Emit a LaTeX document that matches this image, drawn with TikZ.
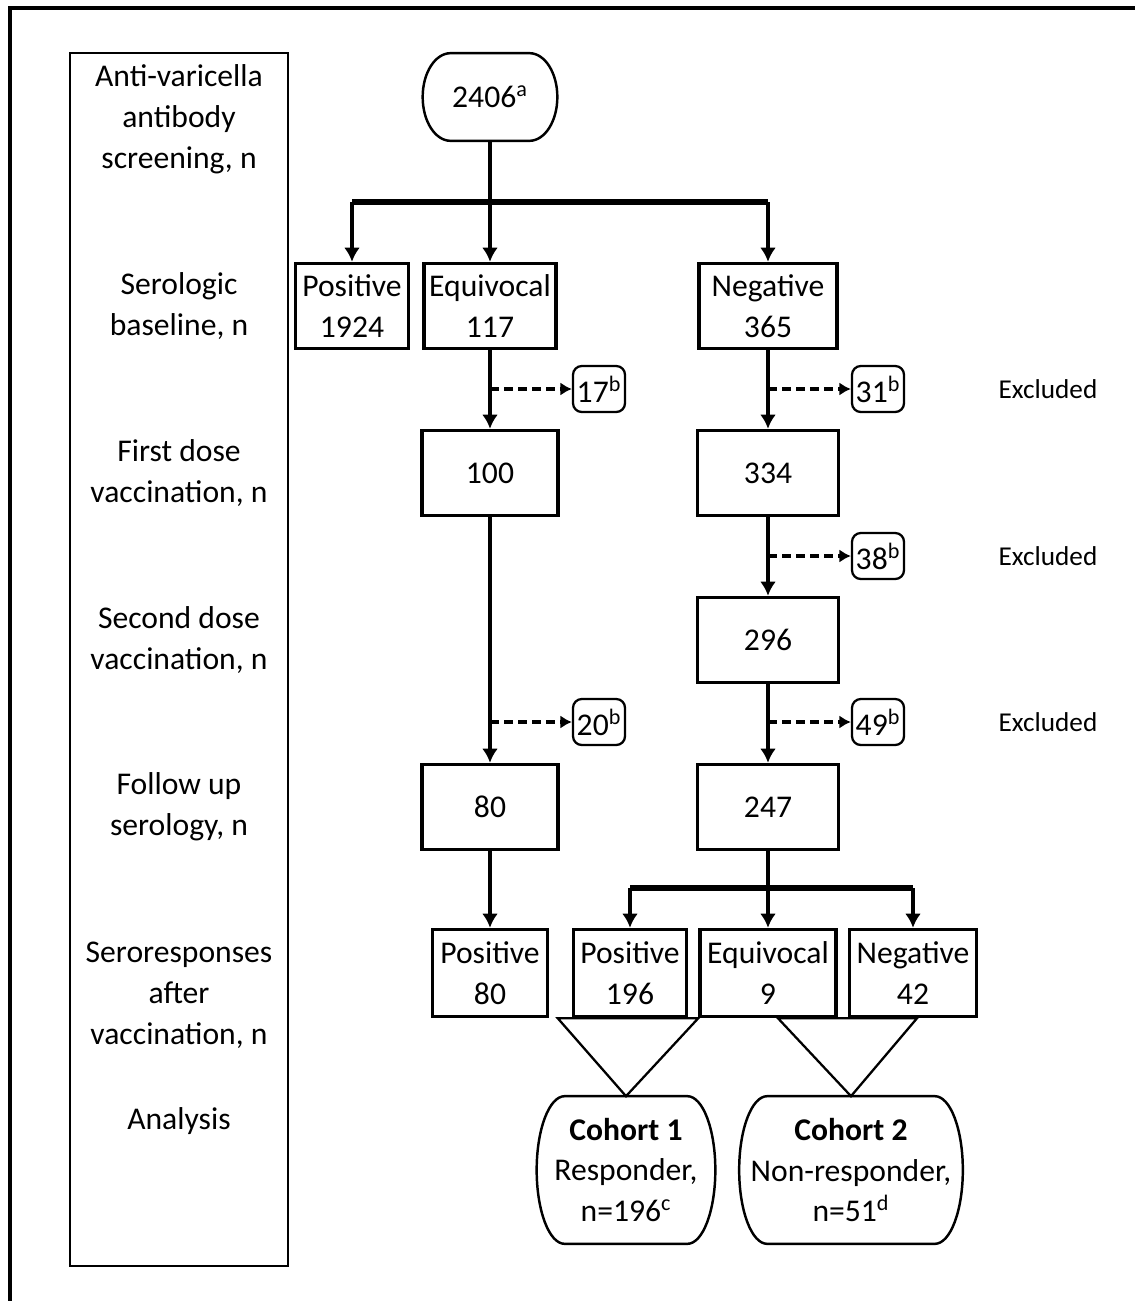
\documentclass[tikz,border=0pt]{standalone}
\usepackage{fontspec}
\setmainfont{Carlito}
\usepackage{tikz}
\usetikzlibrary{arrows.meta, positioning, calc}

% side-rounded outline drawn round a named node
\newcommand{\pillframe}[1]{%
  \draw[pillline] ([xshift=0.56cm]#1.north west) -- ([xshift=-0.56cm]#1.north east)
    .. controls ([xshift=-0.25cm]#1.north east) and ($(#1.east)!0.552!(#1.north east)$) .. (#1.east)
    .. controls ($(#1.east)!0.552!(#1.south east)$) and ([xshift=-0.25cm]#1.south east) .. ([xshift=-0.56cm]#1.south east)
    -- ([xshift=0.56cm]#1.south west)
    .. controls ([xshift=0.25cm]#1.south west) and ($(#1.west)!0.552!(#1.south west)$) .. (#1.west)
    .. controls ($(#1.west)!0.552!(#1.north west)$) and ([xshift=0.25cm]#1.north west) .. cycle;}

\begin{document}
\begin{tikzpicture}[
  x=0.02cm, y=-0.02cm,
  box/.style={
    rectangle,
    draw,
    line width=2pt,
    align=center,
    minimum height=1.7cm,
    inner sep=1pt
  },
  exbox/.style={
    rectangle,
    draw,
    rounded corners=5pt,
    line width=1.3pt,
    minimum width=1.04cm,
    minimum height=0.92cm,
    inner sep=1pt
  },
  pill/.style={rectangle, align=center, inner sep=1pt},
  pillline/.style={line width=1.4pt},
  steplabel/.style={align=center},
  arrow/.style={-{Latex[length=8pt,width=9pt]}, line width=1.9pt},
  dasharrow/.style={-{Latex[length=6.5pt,width=7.5pt]}, line width=1.8pt, dash pattern=on 5pt off 3pt},
  branch/.style={line width=3.2pt},
  funnel/.style={line width=1.3pt, line join=miter},
  every node/.append style={font=\fontsize{18}{23.2}\selectfont}
]
\useasboundingbox (0,0) rectangle (1134,1301);

% Outer frame and stage column
\draw[line width=2.4pt] (10,1310) -- (10,8) -- (1140,8);
\draw[line width=1.3pt] (70,53) rectangle (288,1266);

% Stage labels
\node[steplabel] (lscreen) at (179,119) {Anti-varicella\\antibody\\screening, n};
\node[steplabel] (lbase) at (179,306) {Serologic\\baseline, n};
\node[steplabel] (lfirst) at (179,473) {First dose\\vaccination, n};
\node[steplabel] (lsecond) at (179,640) {Second dose\\vaccination, n};
\node[steplabel] (lfollow) at (179,807) {Follow up\\serology, n};
\node[steplabel] (lresp) at (179,995) {Seroresponses\\after\\vaccination, n};
\node[steplabel] (lanalysis) at (179,1121) {Analysis};

% Screening
\node[pill, minimum width=2.68cm, minimum height=1.74cm] (screen) at (490,97) {2406\textsuperscript{a}};
\pillframe{screen}
\coordinate (split1) at (490,202);

% Serologic baseline
\node[box, minimum width=2.26cm] (pos1) at (352,306) {Positive\\1924};
\node[box, minimum width=2.64cm] (equ1) at (490,306) {Equivocal\\117};
\node[box, minimum width=2.76cm] (neg1) at (768,306) {Negative\\365};

% Vaccination and follow up
\node[box, minimum width=2.72cm] (first1) at (490,473) {100};
\node[box, minimum width=2.82cm] (first2) at (768,473) {334};
\node[box, minimum width=2.82cm] (second2) at (768,640) {296};
\node[box, minimum width=2.72cm] (follow1) at (490,807) {80};
\node[box, minimum width=2.82cm] (follow2) at (768,807) {247};
\coordinate (split2) at (768,888);

% Excluded
\node[exbox] (ex1) at (599,389) {17\textsuperscript{b}};
\node[exbox] (ex2) at (878,389) {31\textsuperscript{b}};
\node[exbox] (ex3) at (878,556) {38\textsuperscript{b}};
\node[exbox] (ex4) at (599,722) {20\textsuperscript{b}};
\node[exbox] (ex5) at (878,722) {49\textsuperscript{b}};
\node[font=\fontsize{15.5}{19}\selectfont] (excl1) at (1048,389) {Excluded};
\node[font=\fontsize{15.5}{19}\selectfont] (excl2) at (1048,556) {Excluded};
\node[font=\fontsize{15.5}{19}\selectfont] (excl3) at (1048,722) {Excluded};

% Seroresponses
\node[box, minimum width=2.3cm, minimum height=1.74cm] (resp1) at (490,973) {Positive\\80};
\node[box, minimum width=2.26cm, minimum height=1.74cm] (resp2) at (630,973) {Positive\\196};
\node[box, minimum width=2.72cm, minimum height=1.74cm] (resp3) at (768,973) {Equivocal\\9};
\node[box, minimum width=2.54cm, minimum height=1.74cm] (resp4) at (913,973) {Negative\\42};

% Analysis
\node[pill, minimum width=3.56cm, minimum height=2.94cm] (cohort1) at (626,1170) {\textbf{Cohort 1}\\Responder,\\n=196\textsuperscript{c}};
\node[pill, minimum width=4.46cm, minimum height=2.94cm] (cohort2) at (851,1170) {\textbf{Cohort 2}\\Non-responder,\\n=51\textsuperscript{d}};
\pillframe{cohort1}
\pillframe{cohort2}

% Arrows
\draw[branch] (pos1 |- split1) -- (neg1 |- split1);
\draw[arrow] (screen) -- (equ1);
\draw[arrow] (pos1 |- split1) -- (pos1);
\draw[arrow] (neg1 |- split1) -- (neg1);
\draw[arrow] (equ1) -- (first1);
\draw[arrow] (neg1) -- (first2);
\draw[arrow] (first1) -- (follow1);
\draw[arrow] (first2) -- (second2);
\draw[arrow] (second2) -- (follow2);
\draw[arrow] (follow1) -- (resp1);
\draw[branch] (resp2 |- split2) -- (resp4 |- split2);
\draw[arrow] (follow2) -- (resp3);
\draw[arrow] (resp2 |- split2) -- (resp2);
\draw[arrow] (resp4 |- split2) -- (resp4);

% Exclusions
\draw[dasharrow] (ex1 -| equ1) -- (ex1);
\draw[dasharrow] (ex2 -| neg1) -- (ex2);
\draw[dasharrow] (ex3 -| first2) -- (ex3);
\draw[dasharrow] (ex4 -| first1) -- (ex4);
\draw[dasharrow] (ex5 -| second2) -- (ex5);

% Funnels into cohorts
\draw[funnel] ([xshift=-0.28cm]resp2.south west) -- (cohort1.north) -- (resp3.south west) -- cycle;
\draw[funnel] ([xshift=0.2cm]resp3.south) -- (cohort2.north) -- ([xshift=0.08cm]resp4.south) -- cycle;

\end{tikzpicture}
\end{document}
